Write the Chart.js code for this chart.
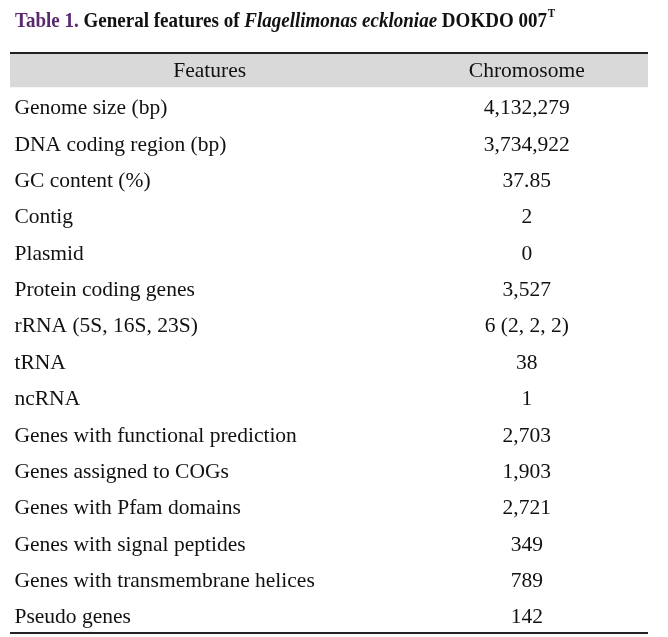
<!DOCTYPE html>
<html>
<head>
<meta charset="utf-8">
<script src="https://cdn.jsdelivr.net/npm/chart.js@4"></script>
<style>
  html, body { margin: 0; padding: 0; background: #fff; }
  #wrap { width: 668px; height: 637px; }
</style>
</head>
<body>
<div id="wrap"><canvas id="featuresTable" width="668" height="637"></canvas></div>
<script>
// table data
const headers = ['Features', 'Chromosome'];
const features = [
    'Genome size (bp)',
    'DNA coding region (bp)',
    'GC content (%)',
    'Contig',
    'Plasmid',
    'Protein coding genes',
    'rRNA (5S, 16S, 23S)',
    'tRNA',
    'ncRNA',
    'Genes with functional prediction',
    'Genes assigned to COGs',
    'Genes with Pfam domains',
    'Genes with signal peptides',
    'Genes with transmembrane helices',
    'Pseudo genes'
];
const chromosome = [
    '4,132,279',
    '3,734,922',
    '37.85',
    '2',
    '0',
    '3,527',
    '6 (2, 2, 2)',
    '38',
    '1',
    '2,703',
    '1,903',
    '2,721',
    '349',
    '789',
    '142'
];

const rowLabels = [headers[0]].concat(features);
// gray band only behind the header row
const headerBand = rowLabels.map((r, i) => i === 0 ? [0, 1] : null);

const FONT = '"Liberation Serif", "Times New Roman", serif';

const tablePlugin = {
    id: 'tableText',
    beforeDraw(chart) {
        const c = chart.ctx;
        c.save();
        c.fillStyle = '#ffffff';
        c.fillRect(0, 0, chart.width, chart.height);
        c.restore();
    },
    afterDatasetsDraw(chart) {
        const c = chart.ctx;
        const x = chart.scales.x;
        const y = chart.scales.y;
        const area = chart.chartArea;
        c.save();
        c.fillStyle = '#111';
        c.font = '21.5px ' + FONT;
        c.textBaseline = 'middle';

        // header row
        const hy = y.getPixelForValue(0) + 1.5;
        c.textAlign = 'center';
        c.fillText(headers[0], x.getPixelForValue(0.313), hy);
        c.fillText(headers[1], x.getPixelForValue(0.81), hy);

        // body rows
        features.forEach((f, i) => {
            const py = y.getPixelForValue(i + 1) + 2;
            c.textAlign = 'left';
            c.fillText(f, x.getPixelForValue(0.007), py);
            c.textAlign = 'center';
            c.fillText(chromosome[i], x.getPixelForValue(0.81), py);
        });

        // top and bottom rules
        c.fillStyle = '#222';
        c.fillRect(area.left, area.top, area.right - area.left, 2);
        c.fillRect(area.left, area.bottom - 2, area.right - area.left, 2);

        // title, condensed like the printed caption
        c.textAlign = 'left';
        c.textBaseline = 'alphabetic';
        const runs = [
            ['Table 1. ', 'bold 22px', '#5b2a6e'],
            ['General features of ', 'bold 22px', '#111'],
            ['Flagellimonas eckloniae', 'italic bold 22px', '#111'],
            [' DOKDO 007', 'bold 22px', '#111']
        ];
        let total = 0;
        runs.forEach(r => {
            c.font = r[1] + ' ' + FONT;
            total += c.measureText(r[0]).width;
        });
        const sx = 532 / total;
        c.translate(15, 27);
        c.scale(sx, 1);
        let tx = 0;
        runs.forEach(r => {
            c.font = r[1] + ' ' + FONT;
            c.fillStyle = r[2];
            c.fillText(r[0], tx, 0);
            tx += c.measureText(r[0]).width;
        });
        c.font = 'bold 13px ' + FONT;
        c.fillStyle = '#111';
        c.fillText('T', tx + 1, -10);
        c.restore();
    }
};

new Chart(document.getElementById('featuresTable').getContext('2d'), {
    type: 'bar',
    data: {
        labels: rowLabels,
        datasets: [{
            data: headerBand,
            backgroundColor: '#d9d9d9',
            borderWidth: 0,
            barPercentage: 1,
            categoryPercentage: 0.94
        }]
    },
    options: {
        indexAxis: 'y',
        responsive: false,
        animation: false,
        devicePixelRatio: 1,
        layout: { padding: { left: 10, right: 20, top: 52, bottom: 3 } },
        plugins: {
            legend: { display: false },
            tooltip: { enabled: false }
        },
        scales: {
            x: { type: 'linear', min: 0, max: 1, display: false },
            y: { type: 'category', display: false, offset: true }
        }
    },
    plugins: [tablePlugin]
});
</script>
</body>
</html>
